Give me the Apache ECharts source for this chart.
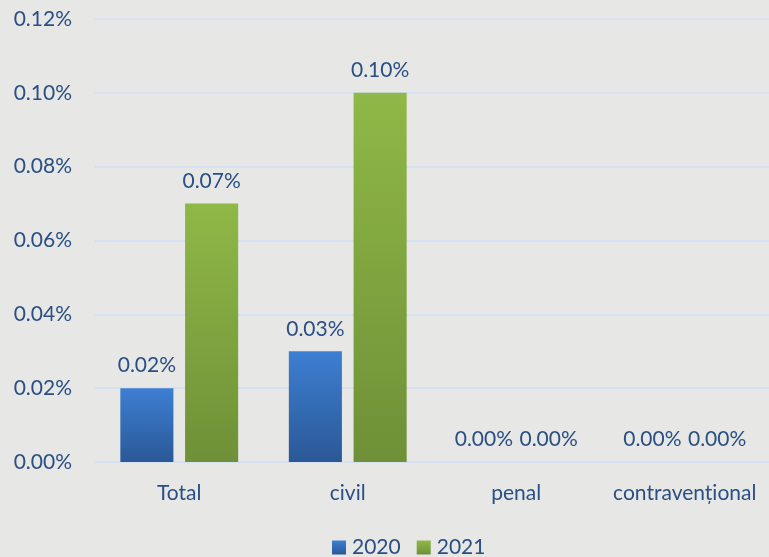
<!DOCTYPE html>
<html>
<head>
<meta charset="utf-8">
<script src="https://cdn.jsdelivr.net/npm/echarts@6/dist/echarts.min.js"></script>
<style>
  html, body { margin: 0; padding: 0; background: #e7e7e6; }
  #chart { width: 769px; height: 557px; }
</style>
</head>
<body>
<div id="chart"></div>
<script>
const categories = ["Total", "civil", "penal", "contravențional"];
const values2020 = [0.02, 0.03, 0, 0];
const values2021 = [0.07, 0.10, 0, 0];

const textColor = "#2a4f85";
const font = "Lato";
const fs = 21;

const chart = echarts.init(document.getElementById("chart"));

const label = {
  show: true,
  position: "top",
  distance: 12,
  color: textColor,
  fontSize: fs,
  fontFamily: font,
  formatter: (p) => p.value.toFixed(2) + "%",
};

chart.setOption({
  backgroundColor: "#e7e7e6",
  textStyle: { fontFamily: font },
  legend: {
    bottom: -6,
    left: 327,
    itemWidth: 14,
    itemHeight: 14,
    itemGap: 16,
    icon: "rect",
    textStyle: { color: textColor, fontSize: fs, fontFamily: font, padding: [0, 0, 0, 1] },
  },
  grid: { left: 95, right: 0, top: 19, bottom: 95 },
  xAxis: {
    type: "category",
    data: categories,
    axisLine: { show: false },
    axisTick: { show: false },
    axisLabel: { color: textColor, fontSize: fs, fontFamily: font, margin: 21, interval: 0 },
  },
  yAxis: {
    type: "value",
    min: 0,
    max: 0.12,
    interval: 0.02,
    axisLine: { show: false },
    axisTick: { show: false },
    axisLabel: {
      color: textColor,
      fontSize: fs,
      fontFamily: font,
      margin: 23,
      formatter: (v) => v.toFixed(2) + "%",
    },
    splitLine: { lineStyle: { color: "#d5e1f0", width: 2 } },
  },
  series: [
    {
      name: "2020",
      type: "bar",
      data: values2020,
      barWidth: "31.5%",
      barGap: "22%",
      label: label,
      itemStyle: {
        color: new echarts.graphic.LinearGradient(0, 0, 0, 1, [
          { offset: 0, color: "#3d7fd2" },
          { offset: 1, color: "#2b5897" },
        ]),
      },
    },
    {
      name: "2021",
      type: "bar",
      data: values2021,
      barWidth: "31.5%",
      label: label,
      itemStyle: {
        color: new echarts.graphic.LinearGradient(0, 0, 0, 1, [
          { offset: 0, color: "#8fb847" },
          { offset: 1, color: "#6f9037" },
        ]),
      },
    },
  ],
});
</script>
</body>
</html>
